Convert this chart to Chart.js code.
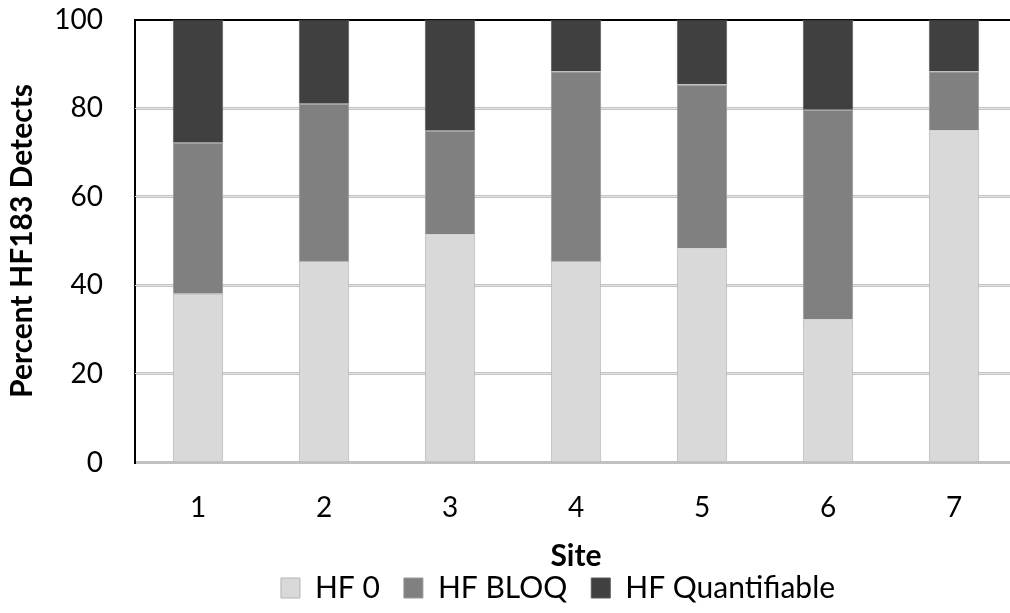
<!DOCTYPE html>
<html>
<head>
<meta charset="utf-8">
<script src="https://cdn.jsdelivr.net/npm/chart.js@4/dist/chart.umd.min.js"></script>
<style>
  html, body { margin: 0; padding: 0; background: #fff; overflow: hidden; }
  #wrap { width: 1010px; height: 613px; overflow: hidden; }
  #c { display: block; width: 1020px; height: 613px; }
</style>
</head>
<body>
<div id="wrap"><canvas id="c" width="1020" height="613"></canvas></div>
<script>
// Share of HF183 results per sampling site (percent of samples)
const sites = ['1', '2', '3', '4', '5', '6', '7'];
const hf0 = [38.1, 45.5, 51.5, 45.5, 48.3, 32.3, 75.0];
const hfBloq = [34.1, 35.5, 23.4, 42.8, 37.0, 47.3, 13.3];
const hfQuant = [27.8, 19.0, 25.1, 11.7, 14.7, 20.4, 11.7];
const yTickValues = [0, 20, 40, 60, 80, 100];

const FONT = 'Lato';
const LEGEND_SHIFT = -18;   // legend sits a little left of the plot centre
const canvas = document.getElementById('c');

// Light centre stripe on the interior gridlines (drawn under the bars)
const gridStripe = {
  id: 'gridStripe',
  beforeDatasetsDraw(chart) {
    const y = chart.scales.y, a = chart.chartArea, ctx = chart.ctx;
    ctx.save();
    ctx.strokeStyle = '#e4e4e4';
    ctx.lineWidth = 1;
    y.ticks.forEach(t => {
      if (t.value <= 0 || t.value >= 100) return;
      const py = Math.round(y.getPixelForValue(t.value) - 1.5) + 1.5;
      ctx.beginPath();
      ctx.moveTo(a.left, py);
      ctx.lineTo(a.right, py);
      ctx.stroke();
    });
    ctx.restore();
  }
};

// Nudge the legend block sideways after layout
const legendOffset = {
  id: 'legendOffset',
  afterLayout(chart) {
    if (chart.legend) {
      chart.legend.left += LEGEND_SHIFT;
      chart.legend.right += LEGEND_SHIFT;
    }
  }
};

new Chart(canvas, {
  type: 'bar',
  data: {
    labels: sites,
    datasets: [
      { label: 'HF 0', data: hf0, backgroundColor: '#d9d9d9', borderColor: '#b4b4b4', borderWidth: 1 },
      { label: 'HF BLOQ', data: hfBloq, backgroundColor: '#808080', borderColor: '#989898', borderWidth: 1 },
      { label: 'HF Quantifiable', data: hfQuant, backgroundColor: '#404040', borderColor: '#5a5a5a', borderWidth: 1 }
    ]
  },
  options: {
    responsive: false,
    animation: false,
    layout: { padding: { top: 19.5, right: 3, bottom: 0, left: 0 } },
    datasets: { bar: { barPercentage: 0.4, categoryPercentage: 1 } },
    plugins: {
      legend: {
        position: 'bottom',
        fullSize: false,
        labels: {
          font: { family: FONT, size: 30 },
          color: '#000',
          boxWidth: 19,
          boxHeight: 20,
          padding: 24
        }
      },
      tooltip: { enabled: false }
    },
    scales: {
      x: {
        stacked: true,
        grid: { display: false, drawTicks: false },
        border: { display: true, color: '#c0c0c0', width: 3 },
        ticks: { font: { family: FONT, size: 28 }, color: '#000', padding: 29 },
        title: {
          display: true, text: 'Site', color: '#000',
          font: { family: FONT, size: 30, weight: 'bold' },
          padding: { top: 0, bottom: -25.5 }
        },
        afterFit: s => { s.height = 86.5; }
      },
      y: {
        stacked: true,
        min: 0,
        max: 100,
        afterBuildTicks: s => { s.ticks = yTickValues.map(v => ({ value: v })); },
        ticks: { font: { family: FONT, size: 28 }, color: '#000', padding: 0 },
        grid: {
          drawTicks: true,
          tickLength: 32,
          tickColor: 'rgba(0,0,0,0)',
          color: c => (c.tick && c.tick.value === 100) ? '#000' : '#c4c4c4',
          lineWidth: c => (c.tick && c.tick.value === 100) ? 2 : 3
        },
        border: { display: true, color: '#000', width: 2 },
        title: {
          display: true, text: 'Percent HF183 Detects', color: '#000',
          font: { family: FONT, size: 30, weight: 'bold' },
          padding: { top: 4, bottom: 0 }
        },
        afterFit: s => { s.width = 135; }
      }
    }
  },
  plugins: [gridStripe, legendOffset]
});
</script>
</body>
</html>
